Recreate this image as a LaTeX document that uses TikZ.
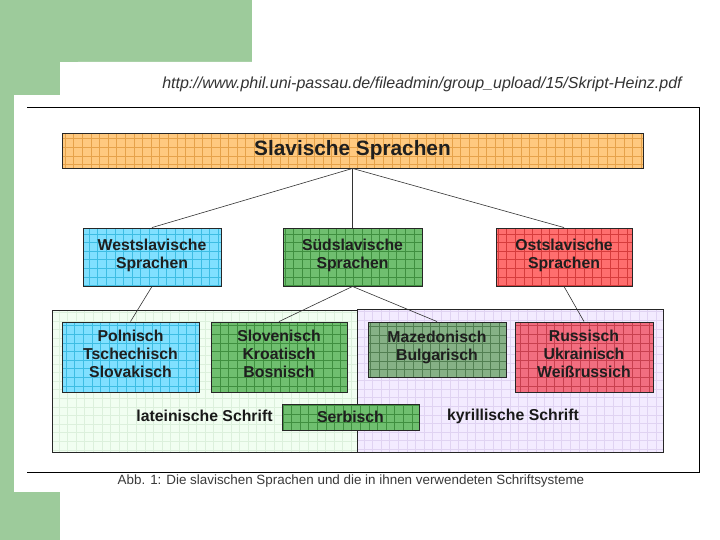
\documentclass[tikz,border=0pt]{standalone}
\usepackage{fontspec}
\setmainfont{Liberation Sans}
\usepackage{xcolor}
\definecolor{pageGreen}  {HTML}{9DCB9B}
\definecolor{slavFill}   {HTML}{FFC97F}
\definecolor{slavGrid}   {HTML}{E6A24A}
\definecolor{westFill}   {HTML}{80E0FF}
\definecolor{westGrid}   {HTML}{3DBDE3}
\definecolor{suedFill}   {HTML}{6FBF6F}
\definecolor{suedGrid}   {HTML}{3F8F3F}
\definecolor{ostFill}    {HTML}{FF6E6E}
\definecolor{ostGrid}    {HTML}{D63C3C}
\definecolor{mazFill}    {HTML}{86B186}
\definecolor{mazGrid}    {HTML}{527F52}
\definecolor{russFill}   {HTML}{F26E80}
\definecolor{russGrid}   {HTML}{C8404F}
\definecolor{latinBack}  {HTML}{F1FEF1}
\definecolor{latinGrid}  {HTML}{DCF0DC}
\definecolor{kyrBack}    {HTML}{F3EBFF}
\definecolor{kyrGrid}    {HTML}{E0D3F2}
\definecolor{captionText}{HTML}{3A3A3A}
\usetikzlibrary{positioning}
\newcommand\boxfont{\fontsize{15.8}{18}\selectfont\bfseries}
\newcommand\liftstrut{\rule[-7pt]{0pt}{7pt}}
\tikzset{
    gridfill/.style 2 args={fill=#1,
        path picture={\draw[#2, line width=0.45pt]
            (path picture bounding box.south west) grid[step=8.6pt]
            (path picture bounding box.north east);}},
    langbox/.style 2 args={gridfill={#1}{#2}, draw=black!85, line width=0.9pt,
        inner sep=0pt, align=center, font=\boxfont, text=black!88},
    liftbox/.style 2 args={langbox={#1}{#2}, execute at end node=\liftstrut},
    scriptarea/.style 2 args={gridfill={#1}{#2}, draw=black!85,
        line width=0.9pt, inner sep=0pt},
    scriptlabel/.style={font=\boxfont, text=black!90},
    link/.style={draw=black!80, line width=0.6pt},
}

\begin{document}
\begin{tikzpicture}[x=1pt, y=-1pt]
    \useasboundingbox (0,0) rectangle (720,540);
    % slide background
    \fill[white] (0,0) rectangle (720,540);
    \fill[pageGreen] (0,0) rectangle (252,62);
    \fill[pageGreen] (0,0) rectangle (60,540);
    \fill[white, rounded corners=18pt] (60,62) rectangle (760,580);
    \fill[white] (14,95) rectangle (720,492);
    \node[font=\fontsize{16}{19}\selectfont\itshape, text=black!80] (url) at (422,84)
        {http://www.phil.uni-passau.de/fileadmin/group\_upload/15/Skript-Heinz.pdf};
    % figure frame
    \draw[black, line width=0.9pt] (27,107) -- (699,107) -- (699,472) -- (27,472);
    \node[font=\fontsize{13.4}{16}\selectfont, text=captionText] (caption) at (351,481)
        {Abb. 1: Die slavischen Sprachen und die in ihnen verwendeten Schriftsysteme};
    % script areas
    \node[scriptarea={latinBack}{latinGrid}, minimum width=306pt, minimum height=142pt] (latin) at (205,381) {};
    \node[scriptarea={kyrBack}{kyrGrid}, minimum width=306pt, minimum height=143pt] (kyr) at (510,380.5) {};
    \node[scriptlabel] (latinlabel) at (204.5,416) {lateinische Schrift};
    \node[scriptlabel] (kyrlabel) at (513,416) {kyrillische Schrift};
    % language families
    \node[langbox={slavFill}{slavGrid}, minimum width=581pt, minimum height=35pt,
          font=\fontsize{20.8}{24}\selectfont\bfseries] (slav) at (352.5,150.5) {Slavische Sprachen};
    \node[liftbox={westFill}{westGrid}, minimum width=138pt, minimum height=58pt] (west) at (152,257) {Westslavische\\Sprachen};
    \node[liftbox={suedFill}{suedGrid}, minimum width=139pt, minimum height=58pt] (sued) at (352.5,257) {Südslavische\\Sprachen};
    \node[liftbox={ostFill}{ostGrid}, minimum width=136pt, minimum height=58pt] (ost) at (564,257) {Ostslavische\\Sprachen};
    % languages
    \node[liftbox={westFill}{westGrid}, minimum width=137pt, minimum height=70pt] (poln) at (130.5,357) {Polnisch\\Tschechisch\\Slovakisch};
    \node[liftbox={suedFill}{suedGrid}, minimum width=136pt, minimum height=70pt] (slov) at (279,357) {Slovenisch\\Kroatisch\\Bosnisch};
    \node[liftbox={mazFill}{mazGrid}, minimum width=138pt, minimum height=55pt] (maz) at (437,349.5) {Mazedonisch\\Bulgarisch};
    \node[liftbox={russFill}{russGrid}, minimum width=138pt, minimum height=70pt] (russ) at (584,357) {Russisch\\Ukrainisch\\Weißrussich};
    \node[langbox={suedFill}{suedGrid}, minimum width=137pt, minimum height=26pt] (serb) at (350.5,417) {Serbisch};
    % tree links
    \draw[link] (slav.south) -- (west.north);
    \draw[link] (slav.south) -- (sued.north);
    \draw[link] (slav.south) -- (ost.north);
    \draw[link] (west.south) -- (poln.north);
    \draw[link] (sued.south) -- (slov.north);
    \draw[link] (sued.south) -- (maz.north);
    \draw[link] (ost.south) -- (russ.north);
\end{tikzpicture}
\end{document}
